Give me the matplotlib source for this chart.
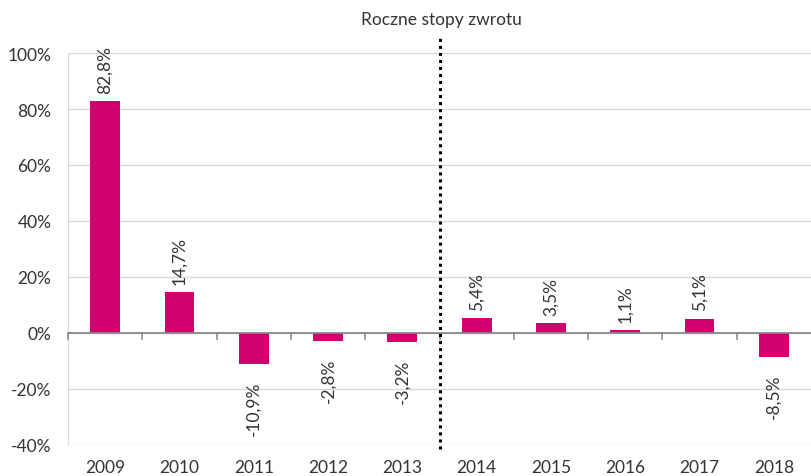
import matplotlib
matplotlib.use("Agg")
import matplotlib.pyplot as plt
from matplotlib.ticker import FuncFormatter

years = ["2009", "2010", "2011", "2012", "2013", "2014", "2015", "2016", "2017", "2018"]
returns = [82.8, 14.7, -10.9, -2.8, -3.2, 5.4, 3.5, 1.1, 5.1, -8.5]
labels = ["82,8%", "14,7%", "-10,9%", "-2,8%", "-3,2%", "5,4%", "3,5%", "1,1%", "5,1%", "-8,5%"]
title = "Roczne stopy zwrotu"

plt.rcParams['font.family'] = ['Lato', 'DejaVu Sans']
plt.rcParams['font.weight'] = 'normal'
txt = '#333333'

fig = plt.figure(figsize=(8.11, 4.77), dpi=100)
ax = fig.add_axes([68/811, 1-446/477, 1-68/811, (446-54)/477])

x = list(range(len(years)))
ax.bar(x, returns, width=0.4, color='#D0006F', zorder=3)
ax.set_xlim(-0.5, len(years)-0.5)
ax.set_ylim(-40, 100)
ax.set_yticks(range(-40, 101, 20))
ax.yaxis.set_major_formatter(FuncFormatter(lambda v, p: f"{int(v)}%"))
ax.grid(axis='y', color='#D9D9D9', linewidth=1, zorder=0)
ax.set_axisbelow(True)
for s in ['top', 'right', 'bottom']:
    ax.spines[s].set_visible(False)
ax.spines['left'].set_color('#D9D9D9')
ax.tick_params(axis='y', length=0, labelsize=12.5, labelcolor=txt, pad=12)
ax.set_xticks(x)
ax.set_xticklabels(years)
ax.tick_params(axis='x', length=0, labelsize=12.5, labelcolor=txt, pad=10)
ax.axhline(0, color='#888888', linewidth=1.3, zorder=4)
for b in [i - 0.5 for i in range(len(years))]:
    ax.plot([b, b], [0, -2.2], color='#888888', linewidth=1.2, zorder=4, clip_on=False)

for xi, v, l in zip(x, returns, labels):
    if v >= 0:
        ax.annotate(l, (xi, v), xytext=(0, 6), textcoords='offset points', rotation=90,
                    ha='center', va='bottom', fontsize=12.5, color=txt)
    else:
        ax.annotate(l, (xi, v), xytext=(0, -12), textcoords='offset points', rotation=90,
                    ha='center', va='top', fontsize=12.5, color=txt)

ax.plot([4.5, 4.5], [-41.4, 106], color='black', linestyle=(0, (1, 1.3)), linewidth=2.2,
        clip_on=False, zorder=5)
fig.text(441/811, 1-20/477, title, ha='center', va='center', fontsize=12.5, color=txt)

fig.savefig('out.png', dpi=100)
